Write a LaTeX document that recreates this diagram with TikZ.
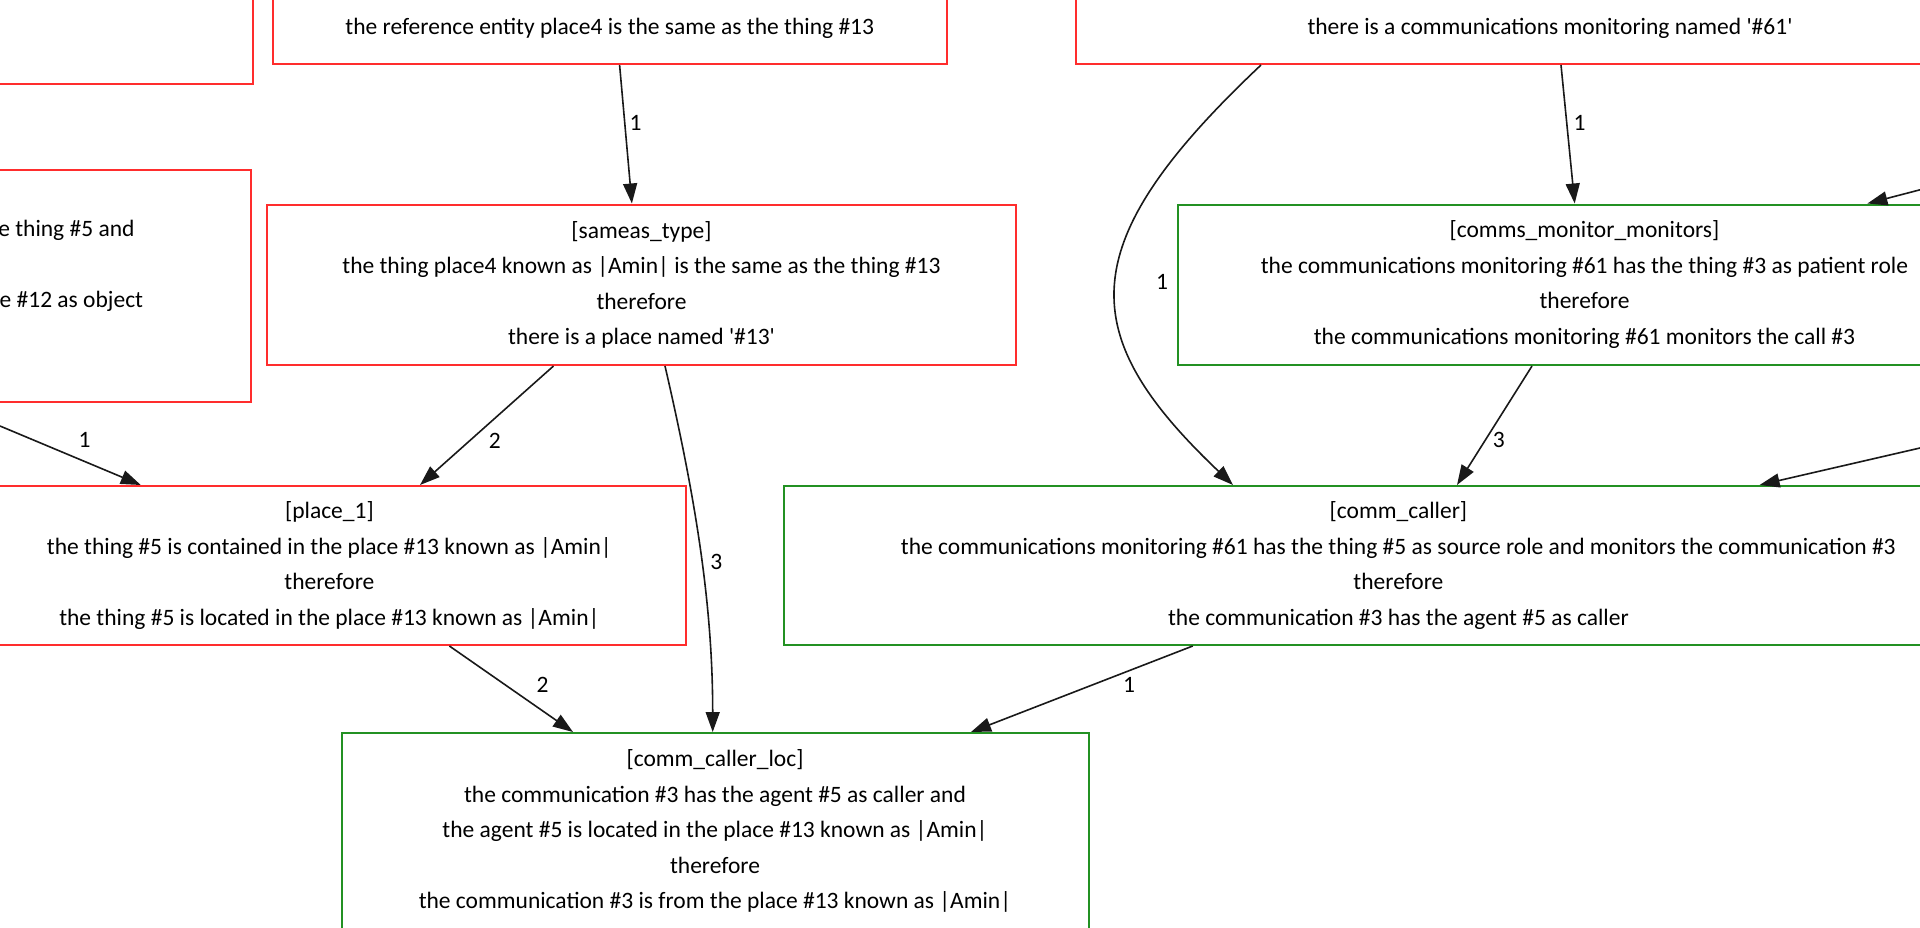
\documentclass[tikz,border=0pt]{standalone}
\usepackage{fontspec}
\setmainfont{Carlito}
\usetikzlibrary{arrows.meta}

\definecolor{rulered}{RGB}{255,45,45}
\definecolor{rulegreen}{RGB}{35,145,35}

\tikzset{
  premise/.style={draw=rulered, line width=2pt, align=center, inner sep=0pt},
  derived/.style={draw=rulegreen, line width=2pt, align=center, inner sep=0pt},
  link/.style={-{Triangle[length=20pt,width=14pt]}, line width=1.6pt, draw=black!90},
  lbl/.style={inner sep=0pt},
  frag/.style={inner sep=0pt, anchor=east},
}

\begin{document}
\begin{tikzpicture}[x=1pt, y=-1pt, every node/.style={font=\fontsize{23.5}{35.5}\selectfont}]
    \useasboundingbox (0,0) rectangle (1920,927);
    \clip (0,0) rectangle (1920,927);

    % Top row (cut off above)
    \node[premise, minimum width=400, minimum height=200, anchor=south east] (topleft) at (253.5,84.5) {};
    \node[premise, minimum width=673.5, minimum height=125, anchor=south] (refent) at (609.75,65)
        {~\\~\\the reference entity place4 is the same as the thing \#13};
    \node[premise, minimum width=948, minimum height=125, anchor=south] (monnamed) at (1550,65)
        {~\\~\\there is a communications monitoring named \textquotesingle\#61\textquotesingle};

    % Second row
    \node[premise, minimum width=500, minimum height=231.5, anchor=north east] (leftrule) at (252,169) {};
    \node[frag] (leftline2) at (134.7,230.3) {e thing \#5 and};
    \node[frag] (leftline4) at (143.3,301.3) {e \#12 as object};

    \node[premise, minimum width=749, minimum height=160.5] (sameas) at (641.5,284.75)
        {[sameas\_type]\\the thing place4 known as |Amin| is the same as the thing \#13\\therefore\\there is a place named \textquotesingle\#13\textquotesingle};
    \node[derived, minimum width=813, minimum height=160.5] (monitors) at (1584.5,284.75)
        {[comms\_monitor\_monitors]\\the communications monitoring \#61 has the thing \#3 as patient role\\therefore\\the communications monitoring \#61 monitors the call \#3};

    % Third row
    \node[premise, minimum width=712.6, minimum height=159] (placeone) at (329.4,565.5)
        {[place\_1]\\the thing \#5 is contained in the place \#13 known as |Amin|\\therefore\\the thing \#5 is located in the place \#13 known as |Amin|};
    \node[derived, minimum width=1229.4, minimum height=159] (caller) at (1398.4,565.5)
        {[comm\_caller]\\the communications monitoring \#61 has the thing \#5 as source role and monitors the communication \#3\\therefore\\the communication \#3 has the agent \#5 as caller};

    % Bottom
    \node[derived, minimum width=747, minimum height=196, anchor=north] (callerloc) at (715,732)
        {[comm\_caller\_loc]\\the communication \#3 has the agent \#5 as caller and\\the agent \#5 is located in the place \#13 known as |Amin|\\therefore\\the communication \#3 is from the place \#13 known as |Amin|};

    % Loose ends from outside the frame
    \coordinate (fromleft) at (0,426);
    \coordinate (fromright1) at (1920,189.8);
    \coordinate (fromright2) at (1920,448);

    % Edges
    \draw[link] ([xshift=9.85]refent.south) -- ([xshift=-9.6]sameas.north);
    \draw[link] (fromleft) -- ([xshift=-188.6]placeone.north);
    \draw[link] ([xshift=-88]sameas.south) -- ([xshift=90.6]placeone.north);
    \draw[link] ([xshift=23.5]sameas.south) .. controls (694,491.6) and (712.7,600) .. ([xshift=-2.3]callerloc.north);
    \draw[link] ([xshift=120]placeone.south) -- ([xshift=-142]callerloc.north);
    \draw[link] ([xshift=11]monnamed.south) -- ([xshift=-9.8]monitors.north);
    \draw[link] ([xshift=-289]monnamed.south) .. controls (1070,245) and (1075,335) .. ([xshift=-165.4]caller.north);
    \draw[link] ([xshift=-52.5]monitors.south) -- ([xshift=58.6]caller.north);
    \draw[link] (fromright1) -- ([xshift=282.9]monitors.north);
    \draw[link] (fromright2) -- ([xshift=361.2]caller.north);
    \draw[link] ([xshift=-205.7]caller.south) -- ([xshift=256]callerloc.north);

    % Edge labels
    \node[lbl] (lab1) at (635.5,122.5) {1};
    \node[lbl] (lab2) at (84.5,439.6) {1};
    \node[lbl] (lab3) at (494.7,440.8) {2};
    \node[lbl] (lab4) at (716.3,562) {3};
    \node[lbl] (lab5) at (542.5,684.5) {2};
    \node[lbl] (lab6) at (1579.6,122.5) {1};
    \node[lbl] (lab7) at (1162,281.6) {1};
    \node[lbl] (lab8) at (1498.8,439.6) {3};
    \node[lbl] (lab9) at (1129,684.5) {1};
\end{tikzpicture}
\end{document}
